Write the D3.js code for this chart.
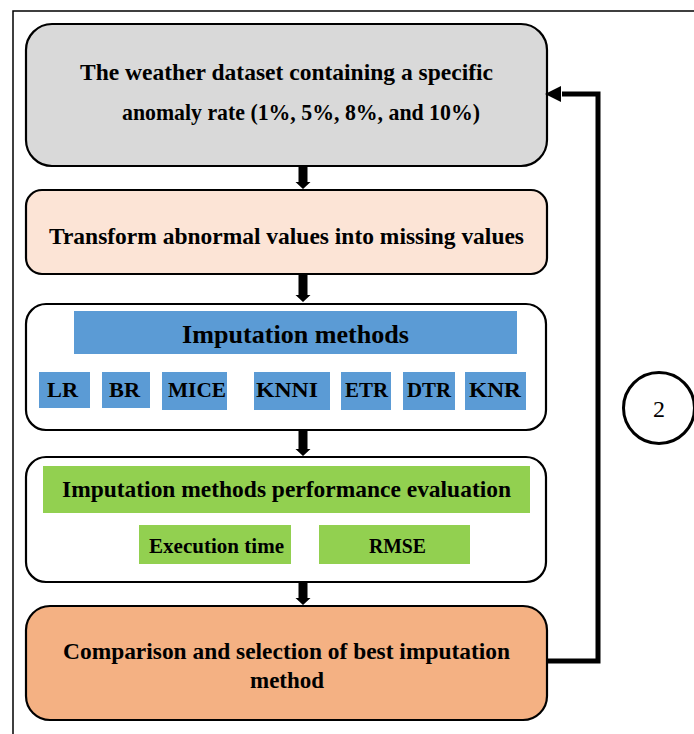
<!DOCTYPE html>
<html><head><meta charset="utf-8">
<script src="https://cdn.jsdelivr.net/npm/d3@7"></script>
<style>html,body{margin:0;padding:0;background:#fff}svg{display:block}
text{font-family:"Liberation Serif","Times New Roman",Times,serif}</style>
</head><body>
<script>
const titleLines = ["The weather dataset containing a specific", "anomaly rate (1%, 5%, 8%, and 10%)"];
const transformLabel = ["Transform abnormal values into missing values"];
const methodsHeader = "Imputation methods";
const methods = ["LR", "BR", "MICE", "KNNI", "ETR", "DTR", "KNR"];
const evalHeader = "Imputation methods performance evaluation";
const metrics = ["Execution time", "RMSE"];
const finalLines = ["Comparison and selection of best imputation", "method"];
const loopLabel = "2";

const W = 694, H = 734;
const svg = d3.select("body").append("svg").attr("width", W).attr("height", H);

// outer frame
svg.append("rect").attr("x", 13).attr("y", 11).attr("width", 700).attr("height", 740)
  .attr("fill", "none").attr("stroke", "#000").attr("stroke-width", 1.5);

function box(x, y, w, h, fill, r) {
  svg.append("rect").attr("x", x).attr("y", y).attr("width", w).attr("height", h)
    .attr("rx", r).attr("ry", r).attr("fill", fill).attr("stroke", "#000").attr("stroke-width", 2.2);
}
function txt(t, x, y, size, len, weight) {
  const e = svg.append("text").attr("x", x).attr("y", y).attr("text-anchor", "middle")
    .attr("dominant-baseline", "central")
    .attr("font-size", size).attr("font-weight", weight || "bold")
    .attr("fill", "#000").text(t);
  if (len) e.attr("textLength", len).attr("lengthAdjust", "spacingAndGlyphs");
  return e;
}
function downArrow(cx, y0, y1) {
  const p = d3.path();
  p.moveTo(cx - 4.5, y0); p.lineTo(cx + 4.5, y0); p.lineTo(cx + 4.5, y1 - 7);
  p.lineTo(cx + 7.5, y1 - 7); p.lineTo(cx, y1); p.lineTo(cx - 7.5, y1 - 7);
  p.lineTo(cx - 4.5, y1 - 7); p.closePath();
  svg.append("path").attr("d", p.toString()).attr("fill", "#000");
}

// Box 1
box(26, 24, 521, 142, "#d9d9d9", 26);
const l1 = [[80, 493], [122, 480]];
titleLines.forEach((t, i) => txt(t, (l1[i][0] + l1[i][1]) / 2, 72 + i * 40, 23, l1[i][1] - l1[i][0]));
downArrow(303, 167, 189);

// Box 2
box(26, 190, 521, 84, "#fce4d6", 16);
txt(transformLabel[0], 286.5, 236, 23, 475);
downArrow(303, 275, 302);

// Box 3
box(26, 304, 520, 126, "#fff", 20);
svg.append("rect").attr("x", 74).attr("y", 311).attr("width", 443).attr("height", 43).attr("fill", "#5b9bd5");
txt(methodsHeader, 295.5, 334, 26, 227);
const mBox = [[39, 90], [102, 150], [162, 227], [254, 330], [341, 391], [403, 455], [465, 526]];
const mTxt = [[47, 78], [109, 140], [168, 226], [256, 318], [345, 388], [407, 451], [469, 521]];
methods.forEach((m, i) => {
  const b = mBox[i];
  svg.append("rect").attr("x", b[0]).attr("y", 372).attr("width", b[1] - b[0]).attr("height", i >= 2 ? 38 : 36)
    .attr("fill", "#5b9bd5");
  txt(m, (mTxt[i][0] + mTxt[i][1]) / 2, 390, 20, mTxt[i][1] - mTxt[i][0]);
});
downArrow(303, 431, 456);

// Box 4
box(26, 457, 520, 125, "#fff", 20);
svg.append("rect").attr("x", 43).attr("y", 466).attr("width", 487).attr("height", 47).attr("fill", "#92d050");
txt(evalHeader, 286.5, 489, 23, 449);
const metBox = [[139, 291], [319, 470]];
const metTxt = [[149, 284], [369, 426]];
metrics.forEach((m, i) => {
  const b = metBox[i];
  svg.append("rect").attr("x", b[0]).attr("y", 525).attr("width", b[1] - b[0]).attr("height", 39).attr("fill", "#92d050");
  txt(m, (metTxt[i][0] + metTxt[i][1]) / 2, 546, 20, metTxt[i][1] - metTxt[i][0]);
});
downArrow(303, 583, 605);

// Box 5
box(26, 606, 521, 114, "#f4b183", 24);
const f1 = [[63, 510], [250, 324]];
finalLines.forEach((t, i) => txt(t, (f1[i][0] + f1[i][1]) / 2, 651 + i * 29, 24, f1[i][1] - f1[i][0]));

// feedback loop
const lp = d3.path();
lp.moveTo(548, 661); lp.lineTo(598, 661); lp.lineTo(598, 94); lp.lineTo(562, 94);
svg.append("path").attr("d", lp.toString()).attr("fill", "none").attr("stroke", "#000")
  .attr("stroke-width", 5).attr("stroke-linejoin", "miter");
svg.append("path").attr("d", "M545,94 L561,86 L561,102 Z").attr("fill", "#000");

// circle
svg.append("circle").attr("cx", 659).attr("cy", 408).attr("r", 35.5).attr("fill", "#fff")
  .attr("stroke", "#000").attr("stroke-width", 3);
txt(loopLabel, 659, 409, 24, null, "normal");
</script>
</body></html>
